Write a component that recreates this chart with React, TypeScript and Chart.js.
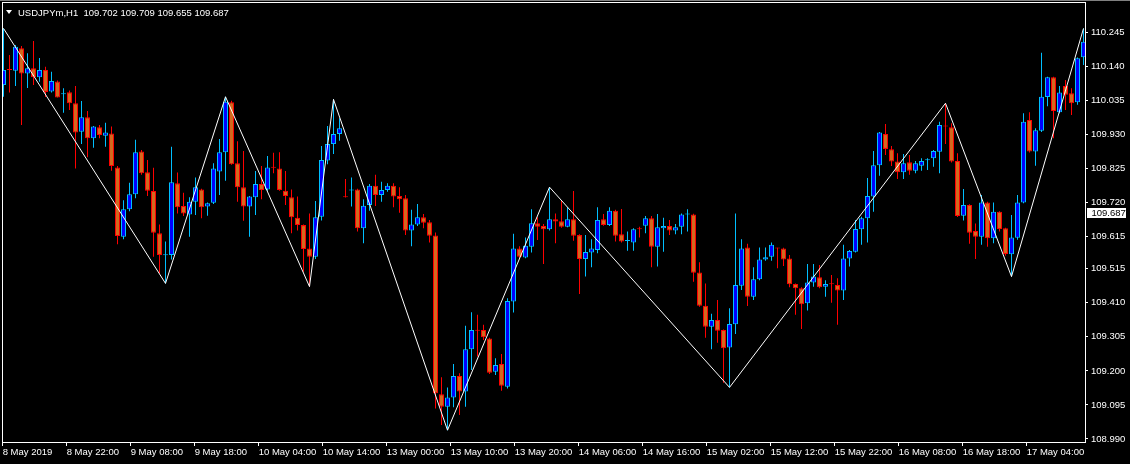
import React, { useEffect, useRef } from "react";
import { Chart, registerables } from "chart.js";

Chart.register(...registerables);

// ---- Data: USDJPYm H1 bars (open, high, low, close) ----
const opens = [
  110.082, 110.130, 110.126, 110.196, 110.118, 110.134, 110.106, 110.129, 110.062, 110.093,
  110.054, 110.060, 110.026, 109.938, 109.983, 109.918, 109.952, 109.926, 109.933, 109.828,
  109.614, 109.699, 109.745, 109.877, 109.813, 109.755, 109.625, 109.557, 109.558, 109.779,
  109.709, 109.683, 109.722, 109.760, 109.707, 109.719, 109.815, 109.875, 110.029, 109.841,
  109.767, 109.707, 109.736, 109.777, 109.760, 109.828, 109.825, 109.756, 109.736, 109.673,
  109.650, 109.578, 109.552, 109.676, 109.849, 109.900, 109.931, 109.737, 109.757, 109.760,
  109.640, 109.712, 109.771, 109.743, 109.758, 109.771, 109.740, 109.733, 109.633, 109.652,
  109.674, 109.659, 109.618, 109.128, 109.089, 109.118, 109.184, 109.136, 109.267, 109.325,
  109.326, 109.300, 109.197, 109.221, 109.151, 109.414, 109.578, 109.550, 109.583, 109.656,
  109.647, 109.637, 109.668, 109.662, 109.645, 109.668, 109.619, 109.545, 109.565, 109.573,
  109.668, 109.650, 109.694, 109.622, 109.601, 109.596, 109.638, 109.648, 109.671, 109.583,
  109.640, 109.647, 109.633, 109.645, 109.683, 109.683, 109.504, 109.401, 109.336, 109.357,
  109.326, 109.272, 109.344, 109.463, 109.581, 109.429, 109.483, 109.544, 109.552, 109.579,
  109.578, 109.547, 109.468, 109.455, 109.409, 109.473, 109.489, 109.460, 109.468, 109.465,
  109.448, 109.547, 109.568, 109.637, 109.671, 109.738, 109.835, 109.931, 109.884, 109.846,
  109.813, 109.844, 109.818, 109.833, 109.850, 109.856, 109.876, 109.955, 109.952, 109.848,
  109.679, 109.712, 109.632, 109.614, 109.720, 109.609, 109.691, 109.640, 109.560, 109.611,
  109.720, 109.974, 109.877, 109.941, 110.045, 110.106, 109.998, 110.079, 110.057, 110.029,
  110.168,
];
const highs = [
  110.257, 110.175, 110.206, 110.203, 110.180, 110.218, 110.166, 110.139, 110.123, 110.096,
  110.072, 110.065, 110.079, 110.033, 110.002, 109.956, 109.959, 109.966, 109.954, 109.832,
  109.727, 109.781, 109.913, 109.882, 109.851, 109.827, 109.652, 109.599, 109.892, 109.812,
  109.750, 109.736, 109.797, 109.762, 109.720, 109.841, 109.916, 110.046, 110.034, 109.909,
  109.879, 109.740, 109.817, 109.832, 109.863, 109.873, 109.875, 109.817, 109.760, 109.738,
  109.652, 109.686, 109.724, 109.894, 109.956, 110.038, 109.980, 109.792, 109.797, 109.762,
  109.730, 109.777, 109.805, 109.784, 109.779, 109.779, 109.767, 109.743, 109.697, 109.715,
  109.684, 109.666, 109.627, 109.180, 109.149, 109.221, 109.193, 109.339, 109.381, 109.373,
  109.342, 109.302, 109.239, 109.252, 109.424, 109.623, 109.585, 109.612, 109.699, 109.674,
  109.653, 109.767, 109.686, 109.725, 109.705, 109.755, 109.622, 109.619, 109.606, 109.705,
  109.684, 109.705, 109.697, 109.700, 109.630, 109.640, 109.645, 109.678, 109.678, 109.684,
  109.673, 109.666, 109.653, 109.686, 109.699, 109.685, 109.535, 109.470, 109.376, 109.419,
  109.328, 109.393, 109.686, 109.606, 109.592, 109.520, 109.581, 109.581, 109.596, 109.580,
  109.580, 109.558, 109.470, 109.458, 109.530, 109.530, 109.527, 109.480, 109.496, 109.486,
  109.589, 109.573, 109.666, 109.676, 109.795, 109.879, 109.937, 109.962, 109.894, 109.872,
  109.869, 109.866, 109.848, 109.856, 109.856, 109.882, 109.969, 110.026, 109.964, 109.872,
  109.761, 109.714, 109.655, 109.743, 109.722, 109.720, 109.693, 109.642, 109.681, 109.743,
  109.995, 109.998, 109.949, 110.182, 110.108, 110.108, 110.079, 110.098, 110.072, 110.167,
  110.257,
];
const lows = [
  110.046, 110.059, 110.079, 109.959, 110.073, 110.082, 110.092, 110.045, 110.059, 110.044,
  109.997, 110.005, 109.825, 109.900, 109.859, 109.889, 109.918, 109.892, 109.818, 109.591,
  109.606, 109.693, 109.733, 109.805, 109.740, 109.552, 109.501, 109.470, 109.544, 109.686,
  109.678, 109.614, 109.681, 109.671, 109.679, 109.715, 109.743, 109.787, 109.836, 109.722,
  109.663, 109.614, 109.681, 109.730, 109.756, 109.810, 109.756, 109.712, 109.625, 109.633,
  109.506, 109.460, 109.545, 109.664, 109.838, 109.869, 109.910, 109.735, 109.707, 109.630,
  109.594, 109.694, 109.709, 109.722, 109.753, 109.705, 109.688, 109.619, 109.585, 109.647,
  109.640, 109.596, 109.084, 109.033, 109.017, 109.088, 109.064, 109.089, 109.203, 109.244,
  109.295, 109.190, 109.187, 109.139, 109.146, 109.380, 109.548, 109.548, 109.565, 109.604,
  109.530, 109.633, 109.594, 109.642, 109.643, 109.602, 109.437, 109.491, 109.520, 109.563,
  109.648, 109.647, 109.599, 109.596, 109.571, 109.571, 109.612, 109.625, 109.520, 109.522,
  109.568, 109.619, 109.622, 109.622, 109.630, 109.475, 109.398, 109.302, 109.267, 109.287,
  109.163, 109.149, 109.314, 109.450, 109.400, 109.419, 109.480, 109.540, 109.540, 109.517,
  109.524, 109.458, 109.373, 109.329, 109.386, 109.460, 109.455, 109.429, 109.410, 109.342,
  109.419, 109.522, 109.565, 109.589, 109.596, 109.691, 109.802, 109.866, 109.832, 109.792,
  109.792, 109.805, 109.810, 109.818, 109.820, 109.830, 109.810, 109.900, 109.843, 109.675,
  109.664, 109.592, 109.545, 109.589, 109.583, 109.594, 109.630, 109.555, 109.491, 109.605,
  109.717, 109.874, 109.833, 109.937, 110.017, 109.918, 109.995, 110.005, 109.990, 110.021,
  110.144,
];
const closes = [
  110.129, 110.129, 110.200, 110.118, 110.134, 110.106, 110.129, 110.061, 110.095, 110.044,
  110.055, 110.026, 109.936, 109.983, 109.918, 109.954, 109.928, 109.936, 109.832, 109.616,
  109.699, 109.745, 109.875, 109.810, 109.756, 109.626, 109.558, 109.558, 109.782, 109.705,
  109.686, 109.722, 109.767, 109.705, 109.717, 109.825, 109.875, 110.031, 109.838, 109.767,
  109.707, 109.738, 109.777, 109.758, 109.828, 109.827, 109.758, 109.740, 109.674, 109.650,
  109.576, 109.552, 109.674, 109.851, 109.900, 109.931, 109.949, 109.736, 109.758, 109.640,
  109.710, 109.771, 109.743, 109.758, 109.771, 109.738, 109.730, 109.633, 109.652, 109.674,
  109.657, 109.617, 109.131, 109.089, 109.118, 109.184, 109.136, 109.267, 109.326, 109.324,
  109.304, 109.194, 109.218, 109.154, 109.416, 109.578, 109.552, 109.586, 109.656, 109.645,
  109.637, 109.668, 109.661, 109.645, 109.668, 109.617, 109.545, 109.567, 109.578, 109.666,
  109.650, 109.694, 109.617, 109.599, 109.602, 109.637, 109.637, 109.671, 109.583, 109.643,
  109.647, 109.633, 109.643, 109.683, 109.684, 109.503, 109.401, 109.336, 109.357, 109.324,
  109.270, 109.345, 109.465, 109.578, 109.429, 109.483, 109.544, 109.551, 109.589, 109.578,
  109.544, 109.467, 109.455, 109.406, 109.473, 109.491, 109.458, 109.468, 109.467, 109.448,
  109.547, 109.570, 109.638, 109.671, 109.740, 109.835, 109.936, 109.885, 109.846, 109.813,
  109.841, 109.818, 109.841, 109.848, 109.851, 109.879, 109.959, 109.954, 109.846, 109.678,
  109.712, 109.626, 109.614, 109.720, 109.609, 109.691, 109.638, 109.561, 109.612, 109.720,
  109.969, 109.877, 109.943, 110.046, 110.106, 110.002, 110.059, 110.052, 110.026, 110.165,
  110.216,
];

// ZigZag turning points (bar index, price)
const zigIdx = [0, 27, 37, 51, 55, 74, 91, 121, 157, 168, 180];
const zigVal = [110.257, 109.470, 110.046, 109.460, 110.038, 109.017, 109.767, 109.149, 110.026, 109.491, 110.257];

// Axis labels
const xTickLabels = [
  "8 May 2019", "8 May 22:00", "9 May 08:00", "9 May 18:00", "10 May 04:00", "10 May 14:00",
  "13 May 00:00", "13 May 10:00", "13 May 20:00", "14 May 06:00", "14 May 16:00", "15 May 02:00",
  "15 May 12:00", "15 May 22:00", "16 May 08:00", "16 May 18:00", "17 May 04:00",
];
const yTickLabels = [
  "110.245", "110.140", "110.035", "109.930", "109.825", "109.720", "109.615",
  "109.515", "109.410", "109.305", "109.200", "109.095", "108.990",
];

const symbolTitle = "USDJPYm,H1";
const lastBarOHLC = [109.702, 109.709, 109.655, 109.687];
const currentPrice = 109.687;

// ---- Styles ----
const BULL_FILL = "#0000FF";
const BULL_LINE = "#00BFFF";
const BEAR_FILL = "#D2691E";
const BEAR_LINE = "#FF0000";
const FONT_FAMILY = '"Liberation Sans", Arial, sans-serif';
const FONT_SIZE = 9.5;

const mtPlugin = {
  id: "mtFrame",
  beforeDraw(chart: any) {
    const { ctx, width } = chart;
    ctx.save();
    ctx.fillStyle = "#000";
    ctx.fillRect(0, 0, width, chart.height);
    ctx.fillStyle = "#808080";
    ctx.fillRect(0, 0, width, 1);
    ctx.restore();
  },
  afterDraw(chart: any) {
    const { ctx, chartArea: a, scales } = chart;
    ctx.save();
    // frame
    ctx.strokeStyle = "#FFFFFF";
    ctx.lineWidth = 1;
    ctx.strokeRect(a.left + 0.5, a.top + 0.5, a.right - a.left, a.bottom - a.top);
    // header
    ctx.fillStyle = "#FFFFFF";
    ctx.beginPath();
    ctx.moveTo(a.left + 4, a.top + 8);
    ctx.lineTo(a.left + 10, a.top + 8);
    ctx.lineTo(a.left + 7, a.top + 12);
    ctx.closePath();
    ctx.fill();
    ctx.font = `${FONT_SIZE}px ${FONT_FAMILY}`;
    ctx.textBaseline = "alphabetic";
    ctx.textAlign = "left";
    ctx.fillText(
      `${symbolTitle}  ${lastBarOHLC.map((v) => v.toFixed(3)).join(" ")}`,
      a.left + 16,
      a.top + 13.7
    );
    // current price box on the price scale
    const y = scales.y.getPixelForValue(currentPrice);
    ctx.fillStyle = "#FFFFFF";
    ctx.fillRect(a.right + 2, Math.round(y) - 5, 39, 10);
    ctx.fillStyle = "#000000";
    ctx.textBaseline = "middle";
    ctx.fillText(currentPrice.toFixed(3), a.right + 6.5, Math.round(y) + 0.5);
    ctx.restore();
  },
};

export default function App() {
  const canvasRef = useRef<HTMLCanvasElement | null>(null);

  useEffect(() => {
    const canvas = canvasRef.current;
    if (!canvas) return;
    const bull = opens.map((o, i) => closes[i] >= o);
    const tickFont = { family: FONT_FAMILY, size: FONT_SIZE };

    const chart = new Chart(canvas, {
      type: "bar",
      data: {
        datasets: [
          {
            type: "line",
            label: "ZigZag",
            data: zigIdx.map((x, k) => ({ x, y: zigVal[k] })),
            borderColor: "#FFFFFF",
            borderWidth: 1,
            pointRadius: 0,
            fill: false,
            tension: 0,
            order: 0,
          } as any,
          {
            type: "bar",
            label: "Body",
            data: opens.map((o, i) => ({ x: i, y: [o, closes[i]] })),
            backgroundColor: bull.map((b) => (b ? BULL_FILL : BEAR_FILL)),
            borderColor: bull.map((b) => (b ? BULL_LINE : BEAR_LINE)),
            borderWidth: 1,
            borderSkipped: false,
            barThickness: 5,
            minBarLength: 1,
            grouped: false,
            inflateAmount: 0,
            order: 1,
          } as any,
          {
            type: "bar",
            label: "Wick",
            data: lows.map((l, i) => ({ x: i, y: [l, highs[i]] })),
            backgroundColor: bull.map((b) => (b ? BULL_LINE : BEAR_LINE)),
            borderWidth: 0,
            barThickness: 1,
            grouped: false,
            inflateAmount: 0,
            order: 2,
          } as any,
        ],
      },
      options: {
        responsive: false,
        animation: false,
        devicePixelRatio: 1,
        events: [],
        layout: { padding: { left: 2, top: 2, right: 0, bottom: 0 }, autoPadding: false },
        plugins: { legend: { display: false }, tooltip: { enabled: false }, title: { display: false } },
        scales: {
          x: {
            type: "linear",
            min: -0.25,
            max: 180.25,
            offset: false,
            afterBuildTicks: (s: any) => {
              s.ticks = xTickLabels.map((_, k) => ({ value: (k * 32) / 3 - 0.1333 }));
            },
            afterFit: (s: any) => {
              s.height = 22;
              s.paddingLeft = 0;
              s.paddingRight = 0;
              s.paddingTop = 0;
              s.paddingBottom = 0;
            },
            ticks: {
              callback: (_v: any, idx: number) => xTickLabels[idx],
              align: "start",
              color: "#FFFFFF",
              font: tickFont,
              padding: 1,
              maxRotation: 0,
              minRotation: 0,
              autoSkip: false,
            },
            grid: { display: true, drawOnChartArea: false, drawTicks: true, tickLength: 4, color: "#FFFFFF", offset: false },
            border: { display: false },
          },
          y: {
            type: "linear",
            position: "right",
            min: 108.9805,
            max: 110.3385,
            beginAtZero: false,
            afterBuildTicks: (s: any) => {
              s.ticks = yTickLabels.map((t) => ({ value: parseFloat(t) }));
            },
            afterFit: (s: any) => {
              s.width = 45;
              s.paddingLeft = 0;
              s.paddingRight = 0;
              s.paddingTop = 0;
              s.paddingBottom = 0;
            },
            ticks: {
              callback: (_v: any, idx: number) => yTickLabels[idx],
              color: "#FFFFFF",
              font: tickFont,
              padding: 3,
              autoSkip: false,
            },
            grid: { display: true, drawOnChartArea: false, drawTicks: true, tickLength: 3, color: "#FFFFFF" },
            border: { display: false },
          },
        },
      } as any,
      plugins: [mtPlugin],
    });

    return () => chart.destroy();
  }, []);

  return (
    <div style={{ position: "fixed", left: 0, top: 0, width: 1130, height: 464, background: "#000" }}>
      <canvas ref={canvasRef} width={1130} height={464} style={{ display: "block" }} />
    </div>
  );
}
